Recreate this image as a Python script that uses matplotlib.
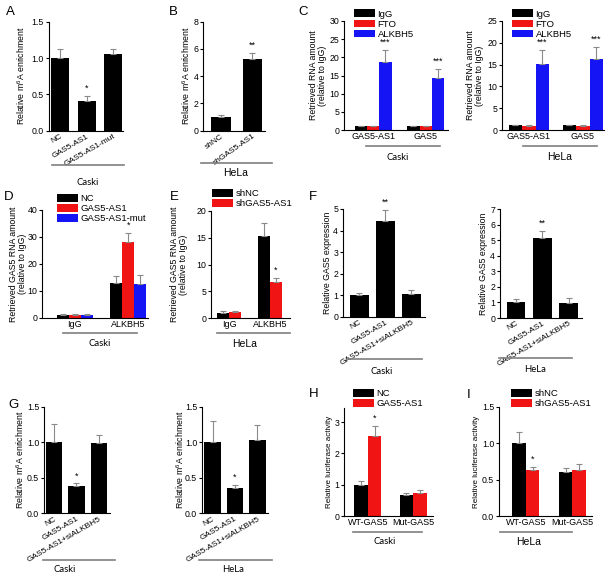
import matplotlib
matplotlib.use("Agg")
import matplotlib.pyplot as plt
from matplotlib.lines import Line2D
import numpy as np

plt.rcParams['font.family'] = ['Liberation Sans', 'DejaVu Sans']
plt.rcParams['mathtext.fontset'] = 'custom'
plt.rcParams['mathtext.rm'] = 'Liberation Sans'
plt.rcParams['mathtext.it'] = 'Liberation Sans'

# ---- data ----
A_labels = ['NC', 'GAS5-AS1', 'GAS5-AS1-mut']
A_vals = [1.0, 0.41, 1.05]
A_err = [0.13, 0.07, 0.08]
A_sig = ['', '*', '']

B_labels = ['shNC', 'shGAS5-AS1']
B_vals = [1.0, 5.25]
B_err = [0.15, 0.45]
B_sig = ['', '**']

C_groups = ['GAS5-AS1', 'GAS5']
C_series = ['IgG', 'FTO', 'ALKBH5']
C_caski = [[1.0, 1.0], [1.0, 1.0], [18.6, 14.3]]
C_caski_err = [[0.2, 0.2], [0.15, 0.15], [3.4, 2.4]]
C_caski_sig = [['', ''], ['', ''], ['***', '***']]
C_hela = [[1.05, 1.05], [1.0, 0.95], [15.2, 16.2]]
C_hela_err = [[0.2, 0.15], [0.15, 0.15], [3.2, 2.9]]
C_hela_sig = [['', ''], ['', ''], ['***', '***']]

D_groups = ['IgG', 'ALKBH5']
D_series = ['NC', 'GAS5-AS1', 'GAS5-AS1-mut']
D_vals = [[1.0, 13.0], [1.0, 28.0], [1.0, 12.5]]
D_err = [[0.3, 2.5], [0.3, 3.5], [0.3, 3.3]]
D_sig = [['', ''], ['', '*'], ['', '']]

E_groups = ['IgG', 'ALKBH5']
E_series = ['shNC', 'shGAS5-AS1']
E_vals = [[1.0, 15.3], [1.1, 6.8]]
E_err = [[0.3, 2.4], [0.3, 0.6]]
E_sig = [['', ''], ['', '*']]

F_labels = ['NC', 'GAS5-AS1', 'GAS5-AS1+siALKBH5']
F_caski = [1.0, 4.45, 1.05]
F_caski_err = [0.13, 0.5, 0.22]
F_hela = [1.0, 5.15, 0.97]
F_hela_err = [0.22, 0.42, 0.33]
F_sig = ['', '**', '']

G_labels = ['NC', 'GAS5-AS1', 'GAS5-AS1+siALKBH5']
G_caski = [1.0, 0.38, 0.99]
G_caski_err = [0.26, 0.04, 0.11]
G_hela = [1.0, 0.36, 1.03]
G_hela_err = [0.3, 0.04, 0.21]
G_sig = ['', '*', '']

H_groups = ['WT-GAS5', 'Mut-GAS5']
H_series = ['NC', 'GAS5-AS1']
H_vals = [[1.0, 0.67], [2.57, 0.72]]
H_err = [[0.12, 0.07], [0.3, 0.1]]
H_sig = [['', ''], ['*', '']]

I_groups = ['WT-GAS5', 'Mut-GAS5']
I_series = ['shNC', 'shGAS5-AS1']
I_vals = [[1.0, 0.61], [0.63, 0.63]]
I_err = [[0.15, 0.05], [0.04, 0.09]]
I_sig = [['', ''], ['*', '']]

W, H = 615, 576
fig = plt.figure(figsize=(W / 100, H / 100), dpi=100)

ERR_C = '#8a8a8a'
LINE_C = '#7f7f7f'
COLORS = ['black', '#f01414', '#1414f5']


def panel(x0, x1, y0, y1, ylim, yticks, xlim):
    ax = fig.add_axes([x0 / W, 1 - y1 / H, (x1 - x0) / W, (y1 - y0) / H])
    ax.spines['top'].set_visible(False)
    ax.spines['right'].set_visible(False)
    for s in ('left', 'bottom'):
        ax.spines[s].set_linewidth(0.8)
    ax.set_ylim(*ylim)
    ax.set_xlim(*xlim)
    ax.set_yticks(yticks)
    ax.tick_params(axis='y', length=2.5, width=0.8, labelsize=6.3, pad=1)
    ax.tick_params(axis='x', length=0, labelsize=6.5, pad=1.5)
    return ax


def ylab(ax, text, right_px, x0, x1, size=6.3):
    ax.set_ylabel(text, fontsize=size, linespacing=1.05)
    ax.yaxis.set_label_coords((right_px - x0) / (x1 - x0), 0.5)


def star(ax, x, top, s, ylim):
    if s:
        ax.text(x, top + 0.03 * ylim[1], s, ha='center', va='bottom', fontsize=6.5)


def simple_bars(ax, vals, err, sig, labels, width, ylim, rot):
    x = np.arange(len(vals))
    ax.bar(x, vals, width, color='black')
    ax.errorbar(x, vals, yerr=[np.zeros(len(err)), err], fmt='none',
                ecolor=ERR_C, elinewidth=0.8, capsize=2, capthick=0.8)
    for xi, v, e, s in zip(x, vals, err, sig):
        star(ax, xi, v + e, s, ylim)
    ax.set_xticks(x)
    ax.set_xticklabels(labels, rotation=rot, ha='right', rotation_mode='anchor', fontsize=6.0)


def grouped_bars(ax, groups, series, vals, err, sig, width, ylim):
    n = len(series)
    g = np.arange(len(groups))
    for i, name in enumerate(series):
        xs = g + (i - (n - 1) / 2) * width
        ax.bar(xs, vals[i], width, color=COLORS[i], label=name)
        ax.errorbar(xs, vals[i], yerr=[np.zeros(len(groups)), err[i]], fmt='none',
                    ecolor=ERR_C, elinewidth=0.8, capsize=2, capthick=0.8)
        for xi, v, e, s in zip(xs, vals[i], err[i], sig[i]):
            star(ax, xi, v + e, s, ylim)
    ax.set_xticks(g)
    ax.set_xticklabels(groups)


def legend(ax, px, py):
    ax.legend(loc='upper left', bbox_to_anchor=(px / W, 1 - py / H),
              bbox_transform=fig.transFigure, frameon=False, fontsize=6.8,
              handlelength=2.2, handleheight=0.85, labelspacing=0.12,
              handletextpad=0.3, borderpad=0, borderaxespad=0)


def group_line(x0, x1, y, text, cx, ty, arial=False):
    fig.add_artist(Line2D([x0 / W, x1 / W], [1 - y / H] * 2, color=LINE_C, lw=1.2))
    if arial:
        fig.text(cx / W, 1 - ty / H, text, ha='center', va='center', fontsize=7.5)
    else:
        fig.text(cx / W, 1 - ty / H, text, ha='center', va='center', fontsize=6.8,
                 family=['Lato', 'DejaVu Sans'])


def letter(x, y, s):
    fig.text(x / W, 1 - y / H, s, ha='left', va='center', fontsize=9.5)


m6a = 'Relative m$^6$A enrichment'

# A
ax = panel(48.7, 123, 21.7, 130.7, (0, 1.5), [0, 0.5, 1.0, 1.5], (-0.43, 2.38))
simple_bars(ax, A_vals, A_err, A_sig, A_labels, 0.68, (0, 1.5), 30)
ax.set_yticklabels(['0.0', '0.5', '1.0', '1.5'])
ylab(ax, m6a, 27, 48.7, 123)
group_line(52, 124, 165, 'Caski', 88, 183)
letter(6, 12, 'A')

# B
ax = panel(203.3, 265, 21.7, 130.7, (0, 8), [0, 2, 4, 6, 8], (-0.56, 1.4))
simple_bars(ax, B_vals, B_err, B_sig, B_labels, 0.62, (0, 8), 35)
ylab(ax, m6a, 192, 203.3, 265)
group_line(201, 272, 163, 'HeLa', 236, 173, arial=True)
letter(169, 12, 'B')

# C left
rna = 'Retrieved RNA amount\n(relative to IgG)'
ax = panel(344, 448, 21, 130, (0, 30), [0, 5, 10, 15, 20, 25, 30], (-0.55, 1.42))
grouped_bars(ax, C_groups, C_series, C_caski, C_caski_err, C_caski_sig, 0.234, (0, 30))
ylab(ax, rna, 327, 344, 448)
legend(ax, 354, 9.5)
group_line(366, 440, 146, 'Caski', 398, 157)
letter(298, 12, 'C')

# C right
ax = panel(502, 604, 21, 130, (0, 25), [0, 5, 10, 15, 20, 25], (-0.5, 1.39))
grouped_bars(ax, C_groups, C_series, C_hela, C_hela_err, C_hela_sig, 0.25, (0, 25))
ylab(ax, rna, 484, 502, 604)
legend(ax, 512, 9.5)
group_line(523, 597, 146, 'HeLa', 560, 157, arial=True)

# D
gas = 'Retrieved GAS5 RNA amount\n(relative to IgG)'
ax = panel(42, 148, 210, 317.7, (0, 40), [0, 10, 20, 30, 40], (-0.61, 1.37))
grouped_bars(ax, D_groups, D_series, D_vals, D_err, D_sig, 0.225, (0, 40))
ylab(ax, gas, 27, 42, 148)
legend(ax, 57, 194)
group_line(63, 137, 333, 'Caski', 100, 344)
letter(4, 197, 'D')

# E
ax = panel(211, 290, 211, 318, (0, 20), [0, 5, 10, 15, 20], (-0.44, 1.49))
grouped_bars(ax, E_groups, E_series, E_vals, E_err, E_sig, 0.3, (0, 20))
ylab(ax, gas, 188, 211, 290)
legend(ax, 212, 189)
group_line(217, 290, 333, 'HeLa', 245, 344, arial=True)
letter(170, 197, 'E')

# F left
gexp = 'Relative GAS5 expression'
ax = panel(343, 425, 209, 317, (0, 5), [0, 1, 2, 3, 4, 5], (-0.63, 2.52))
simple_bars(ax, F_caski, F_caski_err, F_sig, F_labels, 0.73, (0, 5), 30)
ylab(ax, gexp, 332, 343, 425)
group_line(348, 422, 359, 'Caski', 382, 371)
letter(309, 197, 'F')

# F right
ax = panel(500, 582, 209, 318, (0, 7), [0, 1, 2, 3, 4, 5, 6, 7], (-0.61, 2.51))
simple_bars(ax, F_hela, F_hela_err, F_sig, F_labels, 0.7, (0, 7), 30)
ylab(ax, gexp, 488, 500, 582)
group_line(499, 572, 358, 'HeLa', 535, 370)

# G left
ax = panel(44, 110, 406.7, 513.3, (0, 1.5), [0, 0.5, 1.0, 1.5], (-0.45, 2.5))
simple_bars(ax, G_caski, G_caski_err, G_sig, G_labels, 0.74, (0, 1.5), 30)
ax.set_yticklabels(['0.0', '0.5', '1.0', '1.5'])
ylab(ax, m6a, 26, 44, 110)
group_line(43, 115, 560, 'Caski', 65, 569)
letter(8, 405, 'G')

# G right
ax = panel(202, 268, 406.7, 513.3, (0, 1.5), [0, 0.5, 1.0, 1.5], (-0.47, 2.47))
simple_bars(ax, G_hela, G_hela_err, G_sig, G_labels, 0.74, (0, 1.5), 30)
ax.set_yticklabels(['0.0', '0.5', '1.0', '1.5'])
ylab(ax, m6a, 186, 202, 268)
group_line(199, 272, 560, 'HeLa', 233, 569)

# H
luc = 'Relative luciferase activity'
ax = panel(344, 433, 408, 516, (0, 3.45), [0, 1, 2, 3], (-0.53, 1.44))
grouped_bars(ax, H_groups, H_series, H_vals, H_err, H_sig, 0.3, (0, 3.45))
ylab(ax, luc, 333, 344, 433, size=5.8)
legend(ax, 353, 389)
group_line(353, 422, 532, 'Caski', 385, 542)
letter(309, 394, 'H')

# I
ax = panel(499, 592, 407, 516, (0, 1.5), [0, 0.5, 1.0, 1.5], (-0.58, 1.42))
grouped_bars(ax, I_groups, I_series, I_vals, I_err, I_sig, 0.29, (0, 1.5))
ax.set_yticklabels(['0.0', '0.5', '1.0', '1.5'])
ylab(ax, luc, 480, 499, 592, size=5.8)
legend(ax, 511, 389)
group_line(500, 572, 532, 'HeLa', 529, 542, arial=True)
letter(467, 395, 'I')

fig.savefig('out.png', dpi=100)
